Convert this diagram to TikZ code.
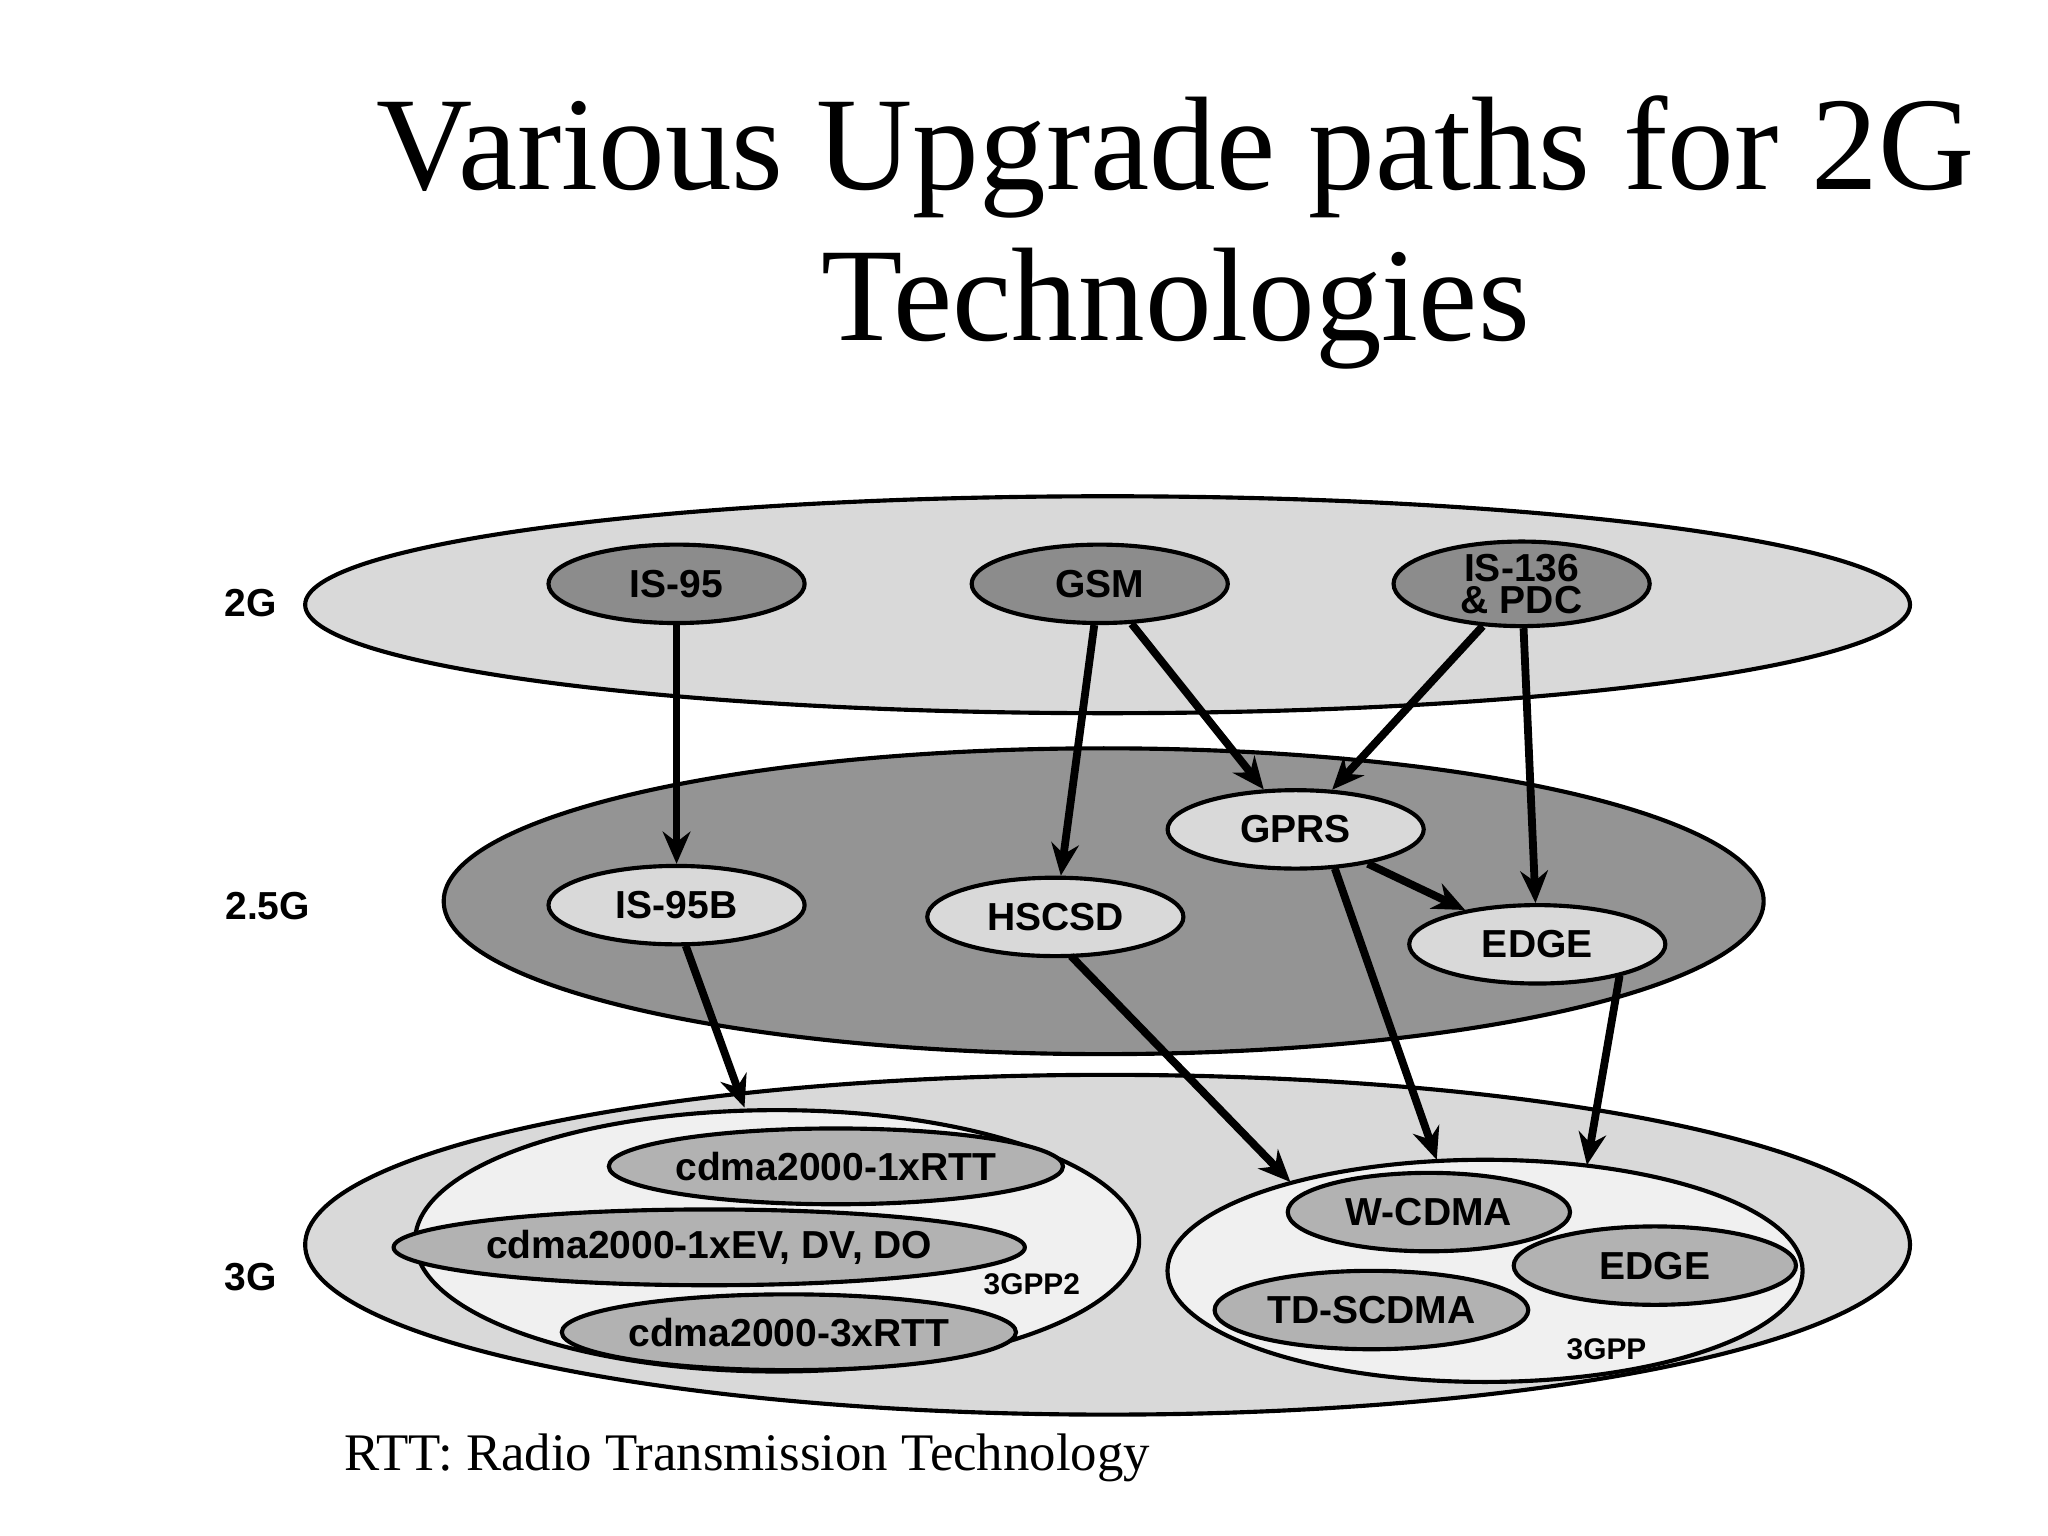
\documentclass[tikz,border=0pt]{standalone}
\usepackage{fontspec}
\setmainfont{Liberation Serif}
\setsansfont{Liberation Sans}
\usetikzlibrary{shapes.geometric,arrows.meta}
\begin{document}
\begin{tikzpicture}[x=0.01cm,y=-0.01cm,
  big/.style={ellipse,draw,line width=0.9pt,inner sep=0pt},
  tech/.style={ellipse,draw,line width=0.9pt,inner sep=0pt,minimum width=196\pgflinewidth,font=\sffamily\bfseries\fontsize{8.5}{8}\selectfont},
  lvl/.style={font=\sffamily\bfseries\fontsize{8.5}{9}\selectfont},
  arr/.style={-{Stealth[length=7pt,width=6pt]},line width=1.7pt}]
\useasboundingbox (0,0) rectangle (1568,1176);
\node[font=\fontsize{29}{33}\selectfont,align=center] (title) at (900,178) {Various Upgrade paths for 2G\\Technologies};
% big layers
\node[big,fill=black!15,minimum width=12.28cm,minimum height=1.66cm] (l2) at (848,463) {};
\node[big,fill=black!42,minimum width=10.1cm,minimum height=2.34cm] (l25) at (845,690) {};
\node[big,fill=black!15,minimum width=12.28cm,minimum height=2.6cm] (l3) at (848,953) {};
\node[big,fill=black!6,minimum width=5.54cm,minimum height=2.0cm] (g2) at (595,950) {};
\node[big,fill=black!6,minimum width=4.86cm,minimum height=1.7cm] (g1) at (1137,973) {};
% labels
\node[lvl] (t2) at (192,462) {2G};
\node[lvl] (t25) at (205,694) {2.5G};
\node[lvl] (t3) at (192,978) {3G};
\node[font=\sffamily\bfseries\fontsize{6.5}{7}\selectfont] (p2) at (790,983) {3GPP2};
\node[font=\sffamily\bfseries\fontsize{6.5}{7}\selectfont] (p1) at (1230,1033) {3GPP};
% tech nodes
\tikzset{dk/.style={tech,fill=black!45,minimum width=1.96cm,minimum height=0.6cm},
         lt/.style={tech,fill=black!15,minimum width=1.96cm,minimum height=0.6cm},
         g3/.style={tech,fill=black!30,minimum height=0.58cm}}
\node[dk] (is95) at (518,447) {IS-95};
\node[dk] (gsm) at (842,447) {GSM};
\node[dk,align=center,font=\sffamily\bfseries\fontsize{8.5}{7}\selectfont] (is136) at (1165,447) {IS-136\\\& PDC};
\node[lt] (gprs) at (992,635) {GPRS};
\node[lt] (is95b) at (518,693) {IS-95B};
\node[lt] (hscsd) at (808,702) {HSCSD};
\node[lt] (edge) at (1177,723) {EDGE};
\node[g3,minimum width=3.24cm] (c1) at (640,893) {cdma2000-1xRTT};
\node[g3,minimum width=4.46cm] (c2) at (543,955) {cdma2000-1xEV, DV, DO};
\node[g3,minimum width=3.24cm] (c3) at (604,1020) {cdma2000-3xRTT};
\node[g3,minimum width=2.16cm,minimum height=0.6cm] (wc) at (1094,928) {W-CDMA};
\node[g3,minimum width=2.16cm,minimum height=0.6cm] (e3) at (1267,969) {EDGE};
\node[g3,minimum width=2.4cm,minimum height=0.6cm] (td) at (1050,1003) {TD-SCDMA};
% arrow ends
\coordinate (a1) at (570,848);
\coordinate (a2) at (988,905);
\coordinate (a3) at (1100,888);
\coordinate (a4) at (1215,892);
\coordinate (s1) at (525,724);
\coordinate (s2) at (820,732);
\coordinate (s3) at (1022,665);
\coordinate (s4) at (1240,747);
% arrows
\draw[arr] (is95) -- (is95b);
\draw[arr] (gsm) -- (hscsd);
\draw[arr] (gsm) -- (gprs);
\draw[arr] (is136) -- (gprs);
\draw[arr] (is136) -- (edge);
\draw[arr] (gprs) -- (edge);
\draw[arr] (s3) -- (a3);
\draw[arr] (s1) -- (a1);
\draw[arr] (s2) -- (a2);
\draw[arr] (s4) -- (a4);
\node[font=\fontsize{11.5}{13}\selectfont] (foot) at (572,1116) {RTT: Radio Transmission Technology};
\end{tikzpicture}
\end{document}
